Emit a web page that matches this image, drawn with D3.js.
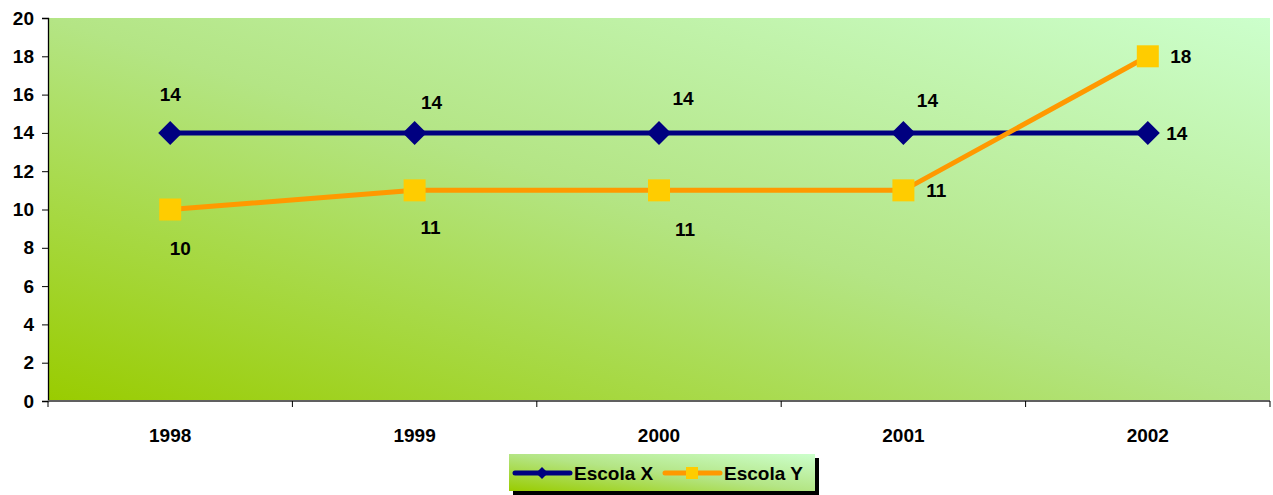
<!DOCTYPE html>
<html>
<head>
<meta charset="utf-8">
<script src="https://cdn.jsdelivr.net/npm/d3@7"></script>
<style>
  body { margin: 0; background: #fff; }
  text { font-family: "Liberation Sans", Arial, sans-serif; font-weight: bold; fill: #000; }
</style>
</head>
<body>
<svg id="chart" width="1273" height="495"></svg>
<script>
// data
var years = ["1998", "1999", "2000", "2001", "2002"];
var escolaX = [14, 14, 14, 14, 14];
var escolaY = [10, 11, 11, 11, 18];
var yTicks = [0, 2, 4, 6, 8, 10, 12, 14, 16, 18, 20];
// where Excel put each data label (offset from its point, px)
var labelShiftX = [[0, -32], [17, -24], [24, -28], [24, -26], [29, 7]];
var labelShiftY = [[10, 45], [16, 44], [26, 46], [33, 7], [33, 7]];

var svg = d3.select("#chart"),
    plotLeft = 48, plotTop = 18, plotRight = 1270, plotBottom = 401,
    fontSize = 19;

var x = d3.scaleBand().domain(years).range([plotLeft, plotRight]);
var y = d3.scaleLinear().domain([0, 20]).range([plotBottom, plotTop]);

var defs = svg.append("defs");
var grad = defs.append("linearGradient").attr("id", "bg")
    .attr("x1", 0).attr("y1", 1).attr("x2", 1).attr("y2", 0);
grad.append("stop").attr("offset", 0).attr("stop-color", "#99cc00");
grad.append("stop").attr("offset", 0.5).attr("stop-color", "#b4e585");
grad.append("stop").attr("offset", 1).attr("stop-color", "#ccffcc");

// plot background
svg.append("rect").attr("x", plotLeft).attr("y", plotTop)
    .attr("width", plotRight - plotLeft).attr("height", plotBottom - plotTop)
    .attr("fill", "url(#bg)");

// y axis
var yAxis = svg.append("g").attr("transform", "translate(" + plotLeft + ",0)")
    .call(d3.axisLeft(y).tickValues(yTicks).tickSize(6).tickPadding(8));
yAxis.select(".domain").attr("stroke", "#000").attr("stroke-width", 1.3);
yAxis.selectAll(".tick line").attr("stroke", "#000");
yAxis.selectAll("text").attr("font-size", fontSize).attr("font-family", "Liberation Sans, Arial, sans-serif").attr("font-weight", "bold");

// x axis: ticks between categories
var xg = svg.append("g").attr("transform", "translate(0," + plotBottom + ")");
xg.append("line").attr("x1", plotLeft).attr("x2", plotRight).attr("stroke", "#606060").attr("stroke-width", 2);
var bounds = years.map(function (d) { return x(d); }).concat([plotRight]);
xg.selectAll(".xtick").data(bounds).enter().append("line")
    .attr("x1", function (d) { return d; }).attr("x2", function (d) { return d; })
    .attr("y1", 0).attr("y2", 6).attr("stroke", "#000");
xg.selectAll(".xlabel").data(years).enter().append("text")
    .attr("x", function (d) { return x(d) + x.bandwidth() / 2; })
    .attr("y", 41).attr("text-anchor", "middle").attr("font-size", fontSize)
    .text(function (d) { return d; });

var cx = function (i) { return x(years[i]) + x.bandwidth() / 2; };
var line = d3.line().x(function (d, i) { return cx(i); }).y(function (d) { return y(d); });

function drawSeries(values, color, marker, markerColor, shifts) {
    var g = svg.append("g");
    g.append("path").datum(values).attr("d", line)
        .attr("fill", "none").attr("stroke", color).attr("stroke-width", 5);
    g.selectAll(".pt").data(values).enter().append("path")
        .attr("transform", function (d, i) { return "translate(" + cx(i) + "," + y(d) + ")"; })
        .attr("d", marker).attr("fill", markerColor);
    g.selectAll(".lbl").data(values).enter().append("text")
        .attr("font-size", fontSize).attr("text-anchor", "middle")
        .attr("x", function (d, i) { return cx(i) + shifts[i][0]; })
        .attr("y", function (d, i) { return y(d) + shifts[i][1]; })
        .text(function (d) { return d; });
}

var diamond = "M0,-12L12,0L0,12L-12,0Z";
var square = "M-11,-11H11V11H-11Z";
drawSeries(escolaX, "#000080", diamond, "#000080", labelShiftX);
drawSeries(escolaY, "#ff9900", square, "#ffcc00", labelShiftY);

// legend
var lg = svg.append("g").attr("transform", "translate(509,454)");
lg.append("rect").attr("x", 4).attr("y", 4).attr("width", 306).attr("height", 37).attr("fill", "#000");
lg.append("rect").attr("width", 306).attr("height", 37).attr("fill", "url(#bg)");
var legendItems = [
    { name: "Escola X", color: "#000080", marker: "M0,-6L6,0L0,6L-6,0Z", mcolor: "#000080", x0: 6 },
    { name: "Escola Y", color: "#ff9900", marker: "M-6,-6H6V6H-6Z", mcolor: "#ffcc00", x0: 156 }
];
legendItems.forEach(function (it) {
    lg.append("line").attr("x1", it.x0).attr("x2", it.x0 + 55).attr("y1", 19).attr("y2", 19)
        .attr("stroke", it.color).attr("stroke-width", 5).attr("stroke-linecap", "round");
    lg.append("path").attr("transform", "translate(" + (it.x0 + 27) + ",19)").attr("d", it.marker).attr("fill", it.mcolor);
    lg.append("text").attr("x", it.x0 + 59).attr("y", 26).attr("font-size", fontSize).text(it.name);
});
</script>
</body>
</html>
